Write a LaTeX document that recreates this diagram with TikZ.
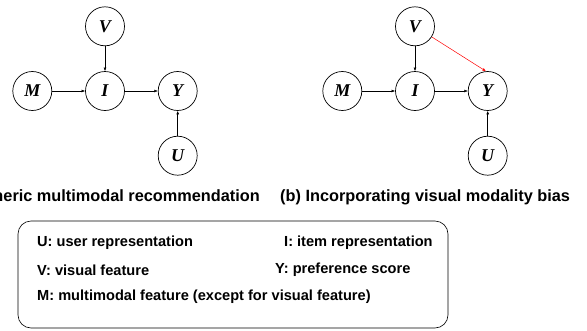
\documentclass[tikz,border=0pt]{standalone}
\usepackage{fontspec}
\setmainfont{Liberation Sans}
\newfontfamily\varfont{Liberation Serif}
\usetikzlibrary{positioning,arrows.meta}

\begin{document}
\begin{tikzpicture}[x=1pt, y=-1pt, node distance=25pt and 33pt,
    var/.style={circle, draw, line width=0.7pt, minimum size=39pt, inner sep=0pt,
        font=\varfont\bfseries\itshape\fontsize{18}{18}\selectfont},
    arr/.style={-{Latex[length=3.5pt,width=2.8pt]}, line width=0.5pt},
    caption/.style={font=\bfseries\fontsize{16.3}{17}\selectfont, inner sep=0pt},
    legend/.style={font=\bfseries\fontsize{14.6}{15}\selectfont, inner sep=0pt, anchor=west}]
    \useasboundingbox (0,0) rectangle (587,330);

    % (a) generic
    \node[var] (Ia) at (105,91) {I};
    \node[var, above=of Ia] (Va) {V};
    \node[var, left=of Ia] (Ma) {M};
    \node[var, right=of Ia] (Ya) {Y};
    \node[var, below=of Ya] (Ua) {U};
    \draw[arr] (Va) -- (Ia);
    \draw[arr] (Ma) -- (Ia);
    \draw[arr] (Ia) -- (Ya);
    \draw[arr] (Ua) -- (Ya);

    % (b) with visual bias
    \node[var] (Ib) at (415,91) {I};
    \node[var, above=of Ib] (Vb) {V};
    \node[var, left=of Ib] (Mb) {M};
    \node[var, right=of Ib] (Yb) {Y};
    \node[var, below=of Yb] (Ub) {U};
    \draw[arr] (Vb) -- (Ib);
    \draw[arr] (Mb) -- (Ib);
    \draw[arr] (Ib) -- (Yb);
    \draw[arr] (Ub) -- (Yb);
    \draw[arr, red] (Vb) -- (Yb.95);

    \node[caption, anchor=east] (capa) at (260,197) {(a) Generic multimodal recommendation};
    \node[caption, anchor=west] (capb) at (280,197) {(b) Incorporating visual modality bias};

    % legend
    \draw[line width=0.6pt, rounded corners=13pt] (18,221) rectangle (448,328);
    \node[legend] (lu) at (37,243) {U: user representation};
    \node[legend] (li) at (284,243) {I: item representation};
    \node[legend] (lv) at (37,270) {V: visual feature};
    \node[legend] (ly) at (275,270) {Y: preference score};
    \node[legend] (lm) at (37,297) {M: multimodal feature (except for visual feature)};
\end{tikzpicture}
\end{document}
